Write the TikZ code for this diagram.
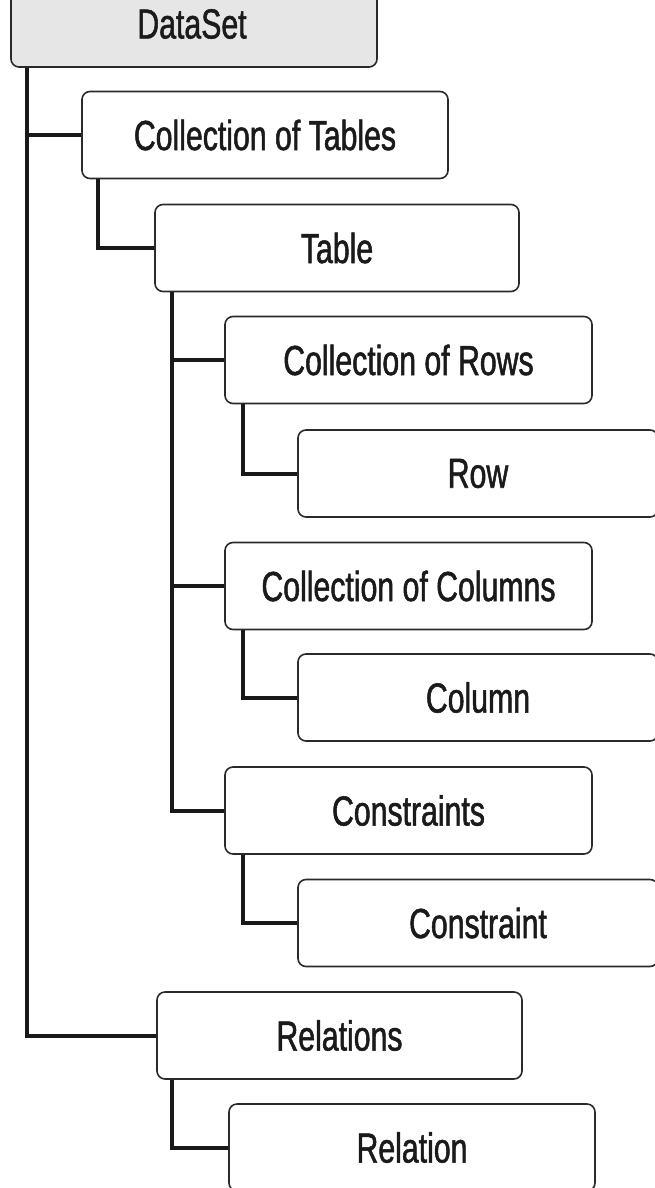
\documentclass[tikz,border=0pt]{standalone}
\usepackage{fontspec}
\setmainfont{Liberation Sans}[FakeStretch=0.72,FakeBold=1.2]
\definecolor{boxline}{HTML}{2A2A2A}
\definecolor{dsfill}{HTML}{E6E6E6}
\definecolor{txt}{HTML}{1A1A1A}
\begin{document}
\begin{tikzpicture}[x=1pt,y=-1pt,
  treebox/.style={draw=boxline, line width=1.6pt, rounded corners=8pt, fill=white,
    minimum height=87pt, inner sep=0pt, text=txt,
    font=\fontsize{42}{48}\selectfont},
  conn/.style={line width=4pt, draw=black!90}]
\useasboundingbox (0,0) rectangle (655,1188);
\clip (0,0) rectangle (655,1188);
\node[treebox, fill=dsfill, minimum width=366pt, minimum height=100pt] (ds) at (194,17) {};
\node[text=txt, font=\fontsize{42}{48}\selectfont] (dslabel) at (192,24) {DataSet};
\node[treebox, minimum width=366pt] (colltables) at (265,135) {Collection of Tables};
\node[treebox, minimum width=364pt] (table) at (337,248) {Table};
\node[treebox, minimum width=367pt] (collrows) at (408.5,360) {Collection of Rows};
\node[treebox, minimum width=360pt] (row) at (478,473.5) {Row};
\node[treebox, minimum width=367pt] (collcols) at (408.5,586) {Collection of Columns};
\node[treebox, minimum width=360pt] (column) at (478,697.5) {Column};
\node[treebox, minimum width=367pt] (constraints) at (408.5,810.5) {Constraints};
\node[treebox, minimum width=360pt] (constraint) at (478,923) {Constraint};
\node[treebox, minimum width=365pt] (relations) at (339.5,1035.5) {Relations};
\node[treebox, minimum width=366pt] (relation) at (412,1147.5) {Relation};
\draw[conn] ([xshift=17pt]ds.south west) |- (relations.west);
\draw[conn] ([xshift=17pt]ds.south west) |- (colltables.west);
\draw[conn] ([xshift=17pt]colltables.south west) |- (table.west);
\draw[conn] ([xshift=18pt]table.south west) |- (constraints.west);
\draw[conn] ([xshift=18pt]table.south west) |- (collrows.west);
\draw[conn] ([xshift=18pt]table.south west) |- (collcols.west);
\draw[conn] ([xshift=19pt]collrows.south west) |- (row.west);
\draw[conn] ([xshift=19pt]collcols.south west) |- (column.west);
\draw[conn] ([xshift=19pt]constraints.south west) |- (constraint.west);
\draw[conn] ([xshift=16pt]relations.south west) |- (relation.west);
\end{tikzpicture}
\end{document}
